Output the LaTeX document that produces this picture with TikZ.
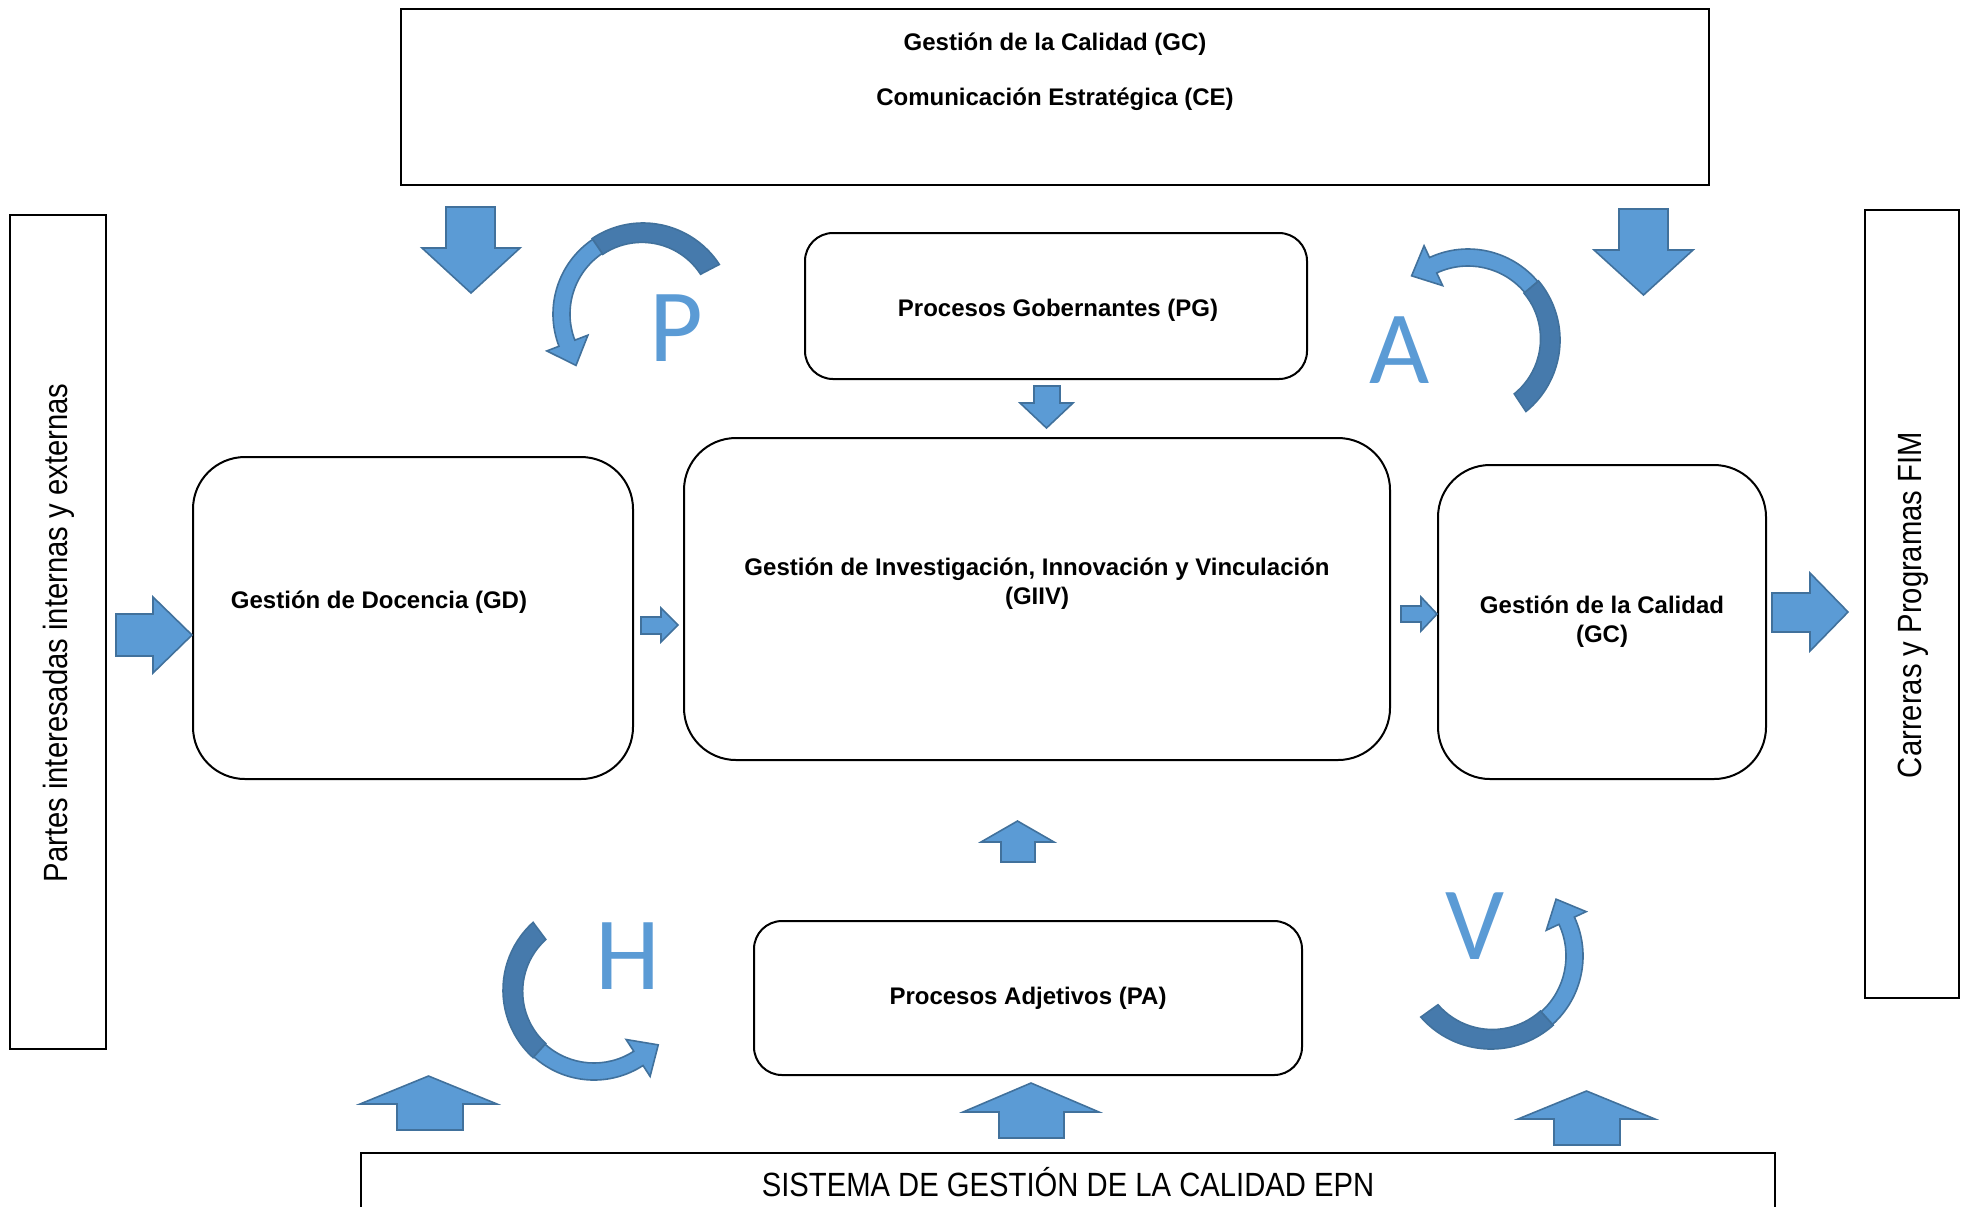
\documentclass[tikz,border=0pt]{standalone}
\usepackage{fontspec}
\setmainfont{Liberation Sans}
\newfontfamily\letterfont{Carlito}
\newfontfamily\narrowfont[FakeStretch=0.87]{Liberation Sans}
\usepackage{tikz}
\usetikzlibrary{calc,positioning}
\definecolor{arrblue}{RGB}{91,155,213}
\definecolor{arrdark}{RGB}{70,122,172}
\definecolor{arredge}{RGB}{65,113,156}
\tikzstyle{sqbox}=[draw,line width=1pt,inner sep=0pt]
\tikzstyle{rbox}=[draw,line width=1pt,rounded corners=26pt,inner sep=0pt,align=center]
\tikzstyle{sbox}=[draw,line width=1pt,rounded corners=14pt,inner sep=0pt,align=center]
\tikzstyle{lbl}=[inner sep=0pt,align=center]
\tikzstyle{side}=[inner sep=0pt,font=\narrowfont\fontsize{16.8}{20}\selectfont]
\tikzstyle{pdca}=[inner sep=0pt,text=arrblue,font=\letterfont\fontsize{52}{60}\selectfont]
\tikzstyle{blockarr}=[fill=arrblue,draw=arredge,line width=0.8pt]
\tikzstyle{darkarr}=[fill=arrdark,draw=arredge,line width=0.8pt]
\tikzstyle{lightarr}=[fill=arrblue,draw=arredge,line width=0.8pt]
\tikzset{font=\bfseries\fontsize{12}{14.5}\selectfont}

\begin{document}
\begin{tikzpicture}[x=0.5pt,y=-0.5pt]
\useasboundingbox (0,0) rectangle (1963,1206);
% frames
\node[sqbox,minimum width=654pt,minimum height=88pt] (top) at (1055,97) {};
\node[lbl] (gctop) at (1055,44) {Gestión de la Calidad (GC)};
\node[lbl] (ce) at (1055,99) {Comunicación Estratégica (CE)};
\node[sqbox,minimum width=48pt,minimum height=417pt] (partes) at (58,632) {};
\node[side,rotate=90] (partestxt) at (59,633) {Partes interesadas internas y externas};
\node[sqbox,minimum width=47pt,minimum height=394pt] (fim) at (1912,604) {};
\node[side,rotate=90] (fimtxt) at (1913,605) {Carreras y Programas FIM};
\node[sqbox,line width=1.3pt,minimum width=707pt,minimum height=40pt] (sgc) at (1068,1193) {};
\node[side] (sgctxt) at (1068,1182) {SISTEMA DE GESTIÓN DE LA CALIDAD EPN};
% processes
\node[sbox,minimum width=251pt,minimum height=73pt] (pg) at (1056,306) {};
\node[lbl] (pgtxt) at (1058,310) {Procesos Gobernantes (PG)};
\node[rbox,minimum width=220pt,minimum height=161pt] (gd) at (413,618) {};
\node[lbl] (gdtxt) at (379,602) {Gestión de Docencia (GD)};
\node[rbox,minimum width=353pt,minimum height=161pt] (giiv) at (1037,599) {};
\node[lbl] (giivtxt) at (1037,584) {Gestión de Investigación, Innovación y Vinculación\\(GIIV)};
\node[rbox,minimum width=164pt,minimum height=157pt] (gc) at (1602,622) {Gestión de la Calidad\\(GC)};
\node[sbox,minimum width=274pt,minimum height=77pt] (pa) at (1028,998) {Procesos Adjetivos (PA)};
% block arrows
\filldraw[blockarr] (446,207) -- (495,207) -- (495,248) -- (520,248) -- (471,293) -- (422,248) -- (446,248) -- cycle;
\filldraw[blockarr] (1619,209) -- (1668,209) -- (1668,250) -- (1693,250) -- (1643.5,295) -- (1594,250) -- (1619,250) -- cycle;
\filldraw[blockarr] (1034,386) -- (1060,386) -- (1060,403) -- (1073,403) -- (1046.5,428) -- (1020,403) -- (1034,403) -- cycle;
\filldraw[blockarr] (116,614) -- (153,614) -- (153,597) -- (192,635) -- (153,673) -- (153,656) -- (116,656) -- cycle;
\filldraw[blockarr] (641,617) -- (661,617) -- (661,608) -- (678,625) -- (661,642) -- (661,634) -- (641,634) -- cycle;
\filldraw[blockarr] (1401,606) -- (1421,606) -- (1421,597) -- (1437,614) -- (1421,631) -- (1421,622) -- (1401,622) -- cycle;
\filldraw[blockarr] (1772,593) -- (1810,593) -- (1810,573) -- (1848,612) -- (1810,651) -- (1810,632) -- (1772,632) -- cycle;
\filldraw[blockarr] (1001,862) -- (1001,842) -- (981,842) -- (1017.5,821) -- (1054,842) -- (1035,842) -- (1035,862) -- cycle;
\filldraw[blockarr] (397,1130) -- (397,1104) -- (360,1104) -- (428.5,1076) -- (497,1104) -- (463,1104) -- (463,1130) -- cycle;
\filldraw[blockarr] (999,1138) -- (999,1112) -- (963,1112) -- (1031,1083) -- (1099,1112) -- (1064,1112) -- (1064,1138) -- cycle;
\filldraw[blockarr] (1554,1145) -- (1554,1119) -- (1518,1119) -- (1586.5,1091) -- (1655,1119) -- (1620,1119) -- (1620,1145) -- cycle;
% PDCA cycle
\coordinate (pc) at (643,314);
\coordinate (ac) at (1468,340);
\coordinate (hc) at (594,990);
\coordinate (vc) at (1491,956);
\filldraw[darkarr] ($(pc)+(-33:91)$) arc[start angle=-33,end angle=-124,radius=91] -- ($(pc)+(-124:72)$) arc[start angle=-124,end angle=-33,radius=70] -- cycle;
\filldraw[lightarr] ($(pc)+(-124:90)$) arc[start angle=-124,end angle=-201,radius=90] -- ($(pc)+(-201:103)$) -- ($(pc)+(-201:81)+(-291:24)$) -- ($(pc)+(-201:59)$) -- ($(pc)+(-201:73)$) arc[start angle=-201,end angle=-124,radius=73] -- cycle;
\filldraw[darkarr] ($(ac)+(51:92)$) arc[start angle=51,end angle=-40,radius=92] -- ($(ac)+(-40:73)$) arc[start angle=-40,end angle=51,radius=71] -- cycle;
\filldraw[lightarr] ($(ac)+(-40:91)$) arc[start angle=-40,end angle=-115,radius=91] -- ($(ac)+(-115:104)$) -- ($(ac)+(-115:82)+(-205:24)$) -- ($(ac)+(-115:60)$) -- ($(ac)+(-115:74)$) arc[start angle=-115,end angle=-40,radius=74] -- cycle;
\filldraw[darkarr] ($(hc)+(228:91)$) arc[start angle=228,end angle=132,radius=91] -- ($(hc)+(132:72)$) arc[start angle=132,end angle=228,radius=70] -- cycle;
\filldraw[lightarr] ($(hc)+(132:90)$) arc[start angle=132,end angle=57,radius=90] -- ($(hc)+(57:103)$) -- ($(hc)+(57:81)+(-33:24)$) -- ($(hc)+(57:59)$) -- ($(hc)+(57:73)$) arc[start angle=57,end angle=132,radius=73] -- cycle;
\filldraw[darkarr] ($(vc)+(139:93)$) arc[start angle=139,end angle=48,radius=93] -- ($(vc)+(48:74)$) arc[start angle=48,end angle=139,radius=72] -- cycle;
\filldraw[lightarr] ($(vc)+(48:92)$) arc[start angle=48,end angle=-25,radius=92] -- ($(vc)+(-25:105)$) -- ($(vc)+(-25:83)+(-115:24)$) -- ($(vc)+(-25:61)$) -- ($(vc)+(-25:75)$) arc[start angle=-25,end angle=48,radius=75] -- cycle;
\node[pdca] (p) at (676,328) {P};
\node[pdca] (a) at (1400,350) {A};
\node[pdca] (h) at (628,956) {H};
\node[pdca] (v) at (1475,926) {V};
\end{tikzpicture}
\end{document}
